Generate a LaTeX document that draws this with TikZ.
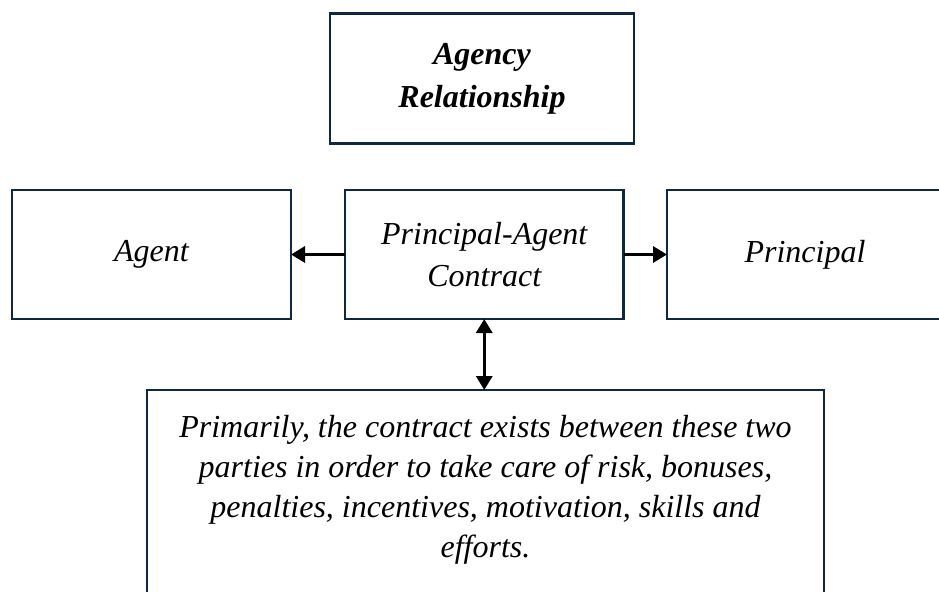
\documentclass[tikz,border=0pt]{standalone}
\usepackage{fontspec}
\setmainfont{Liberation Serif}
\usetikzlibrary{arrows.meta}
\definecolor{boxline}{HTML}{0E2841}
\tikzset{
  box/.style={draw=boxline, line width=1.9pt, inner sep=0pt, outer sep=0pt, align=center, fill=white},
  tip/.tip={Triangle[length=10.5pt,width=12pt]},
  conn/.style={line width=2.4pt, black, -tip},
  bconn/.style={line width=2.4pt, black, tip-tip}
}
\begin{document}
\begin{tikzpicture}[x=0.75pt,y=-0.75pt]
\useasboundingbox (0,0) rectangle (939,592);
\clip (0,0) rectangle (939,592);
\node[box, minimum width=228pt, minimum height=97.1pt,
      font=\fontsize{24}{32.25}\selectfont\bfseries\itshape] (rel) at (482,78.5) {Agency\\Relationship};
\node[box, minimum width=209.25pt, minimum height=96.75pt,
      font=\fontsize{24}{31.7}\selectfont\itshape] (agent) at (151.5,254.5) {Agent};
\node[box, minimum width=208.9pt, minimum height=96.75pt,
      font=\fontsize{24}{31.7}\selectfont\itshape] (pac) at (484.25,254.5) {Principal-Agent\\Contract};
\node[box, minimum width=207pt, minimum height=96.75pt,
      font=\fontsize{24}{31.7}\selectfont\itshape] (principal) at (805,254.5) {Principal};
\node[box, minimum width=507.75pt, inner ysep=18.75pt, text depth=60pt, anchor=north,
      font=\fontsize{24}{30}\selectfont\itshape] (terms) at (485.5,390)
  {Primarily, the contract exists between these two\\parties in order to take care of risk, bonuses,\\penalties, incentives, motivation, skills and\\efforts.};
\draw[conn] (pac.west) -- (agent.east);
\draw[conn] (pac.east) -- (principal.west);
\draw[bconn] (pac.south) -- (pac.south |- terms.north);
\end{tikzpicture}
\end{document}
